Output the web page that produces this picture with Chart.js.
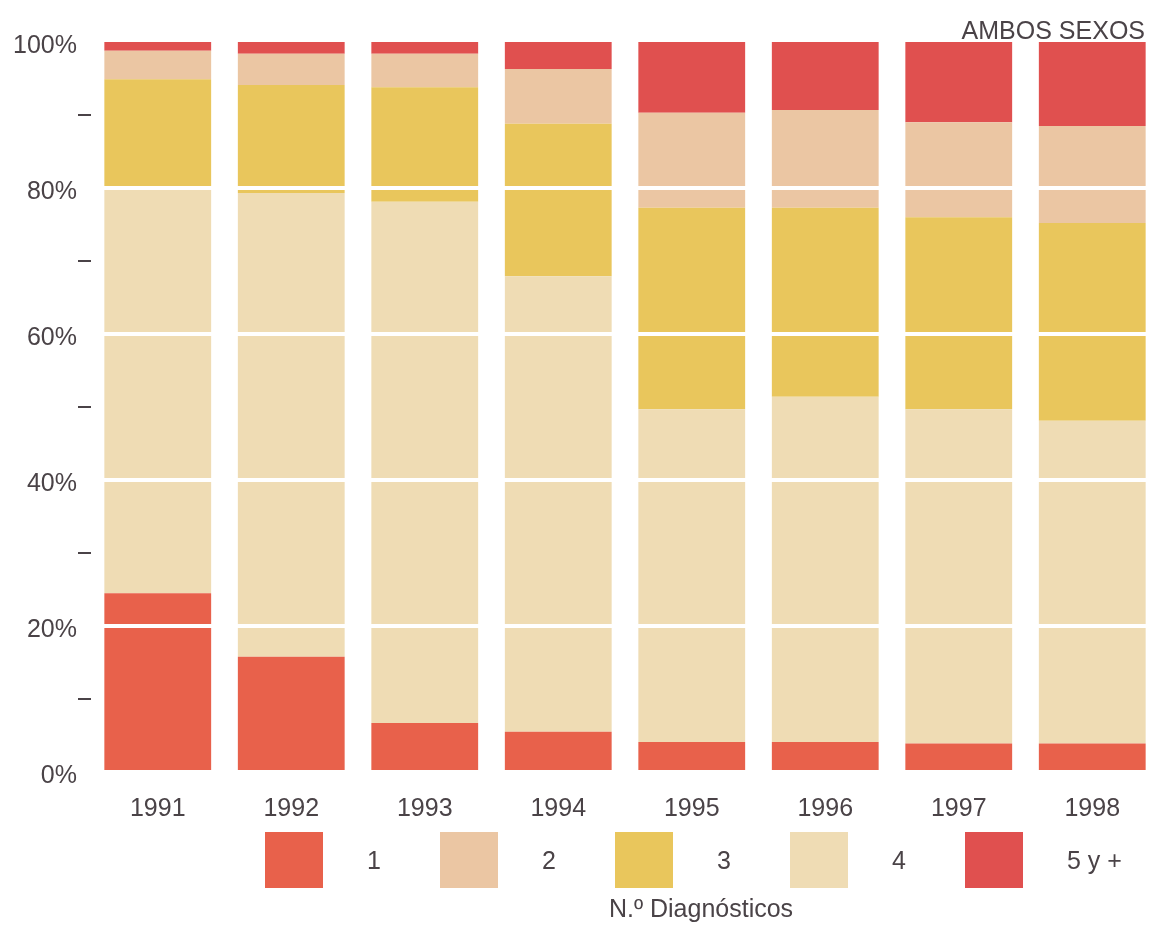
<!DOCTYPE html>
<html>
<head>
<meta charset="utf-8">
<script src="https://cdn.jsdelivr.net/npm/chart.js@4/dist/chart.umd.min.js"></script>
<style>
  html, body { margin: 0; padding: 0; background: #fff; overflow: hidden; width: 1152px; height: 935px; }
  body { font-family: "Liberation Sans", Arial, sans-serif; color: #4a4347; position: relative; }
  #wrap { position: absolute; left: 0; top: 0; width: 1160px; height: 935px; }
  .txt { position: absolute; font-size: 25px; line-height: 1; white-space: nowrap; }
  .sq { position: absolute; width: 58px; height: 56px; }
</style>
</head>
<body>
<div id="wrap"><canvas id="chart"></canvas></div>
<div class="txt" style="right:7px; top:18px;">AMBOS SEXOS</div>
<div id="legend"></div>
<div class="txt" style="left:0; width:1402px; text-align:center; top:896px;">N.º Diagnósticos</div>

<script>
const YEARS = ["1991", "1992", "1993", "1994", "1995", "1996", "1997", "1998"];

// percentages per year (stacked bottom -> top: 1, 4, 3, 2, 5 y +)
const DIAG_1  = [24.5, 15.8, 6.7, 5.5, 4.1, 4.1, 3.9, 3.9];
const DIAG_4  = [55.5, 63.5, 71.4, 62.4, 45.6, 47.3, 45.8, 44.2];
const DIAG_3  = [14.9, 14.8, 15.7, 20.9, 27.6, 25.9, 26.3, 27.1];
const DIAG_2  = [3.9, 4.3, 4.6, 7.5, 13.0, 13.4, 13.0, 13.3];
const DIAG_5  = [1.2, 1.6, 1.6, 3.7, 9.7, 9.3, 11.0, 11.5];

const LEGEND_LABELS = ["1", "2", "3", "4", "5 y +"];
const COLORS = { d1: '#e8614b', d2: '#ebc6a3', d3: '#e9c65c', d4: '#efdcb4', d5: '#e0504f' };
const TEXT = '#4a4347';

// legend (html, same order as the original)
const legendColors = [COLORS.d1, COLORS.d2, COLORS.d3, COLORS.d4, COLORS.d5];
const leg = document.getElementById('legend');
LEGEND_LABELS.forEach((l, i) => {
    const x = 265 + i * 175;
    leg.innerHTML += `<div class="sq" style="left:${x}px; top:832px; background:${legendColors[i]}"></div>
        <div class="txt" style="left:${x + 102}px; top:848px;">${l}</div>`;
});

const ds = (label, data, color) => ({ label, data, backgroundColor: color, borderWidth: 0, barPercentage: 0.8, categoryPercentage: 1 });

new Chart(document.getElementById('chart'), {
    type: 'bar',
    data: {
        labels: YEARS,
        datasets: [
            ds('1', DIAG_1, COLORS.d1),
            ds('4', DIAG_4, COLORS.d4),
            ds('3', DIAG_3, COLORS.d3),
            ds('2', DIAG_2, COLORS.d2),
            ds('5 y +', DIAG_5, COLORS.d5)
        ]
    },
    options: {
        responsive: true,
        maintainAspectRatio: false,
        animation: false,
        layout: { padding: { top: 42, right: 1, left: 0, bottom: 0 } },
        plugins: { legend: { display: false }, tooltip: { enabled: false } },
        scales: {
            x: {
                stacked: true,
                grid: { display: false },
                border: { display: false },
                ticks: { color: TEXT, font: { family: 'Liberation Sans', size: 25 }, padding: 14 },
                afterFit: s => { s.height = 163; }
            },
            y: {
                stacked: true,
                min: 0, max: 100,
                border: { display: false },
                grid: {
                    z: 1,   // white lines go over the bars
                    lineWidth: 4,
                    color: c => (c.tick && c.tick.value % 20 === 0 && c.tick.value > 0 && c.tick.value < 100) ? '#ffffff' : 'rgba(0,0,0,0)',
                    tickColor: c => (c.tick && c.tick.value % 20 !== 0) ? TEXT : 'rgba(0,0,0,0)',
                    tickWidth: 2,
                    tickLength: 13
                },
                ticks: {
                    stepSize: 10,
                    color: TEXT,
                    padding: 1,
                    labelOffset: 4,
                    font: { family: 'Liberation Sans', size: 25 },
                    callback: v => v % 20 === 0 ? v + '%' : ''
                },
                afterFit: s => { s.width = 91; }
            }
        }
    }
});
</script>
</body>
</html>
